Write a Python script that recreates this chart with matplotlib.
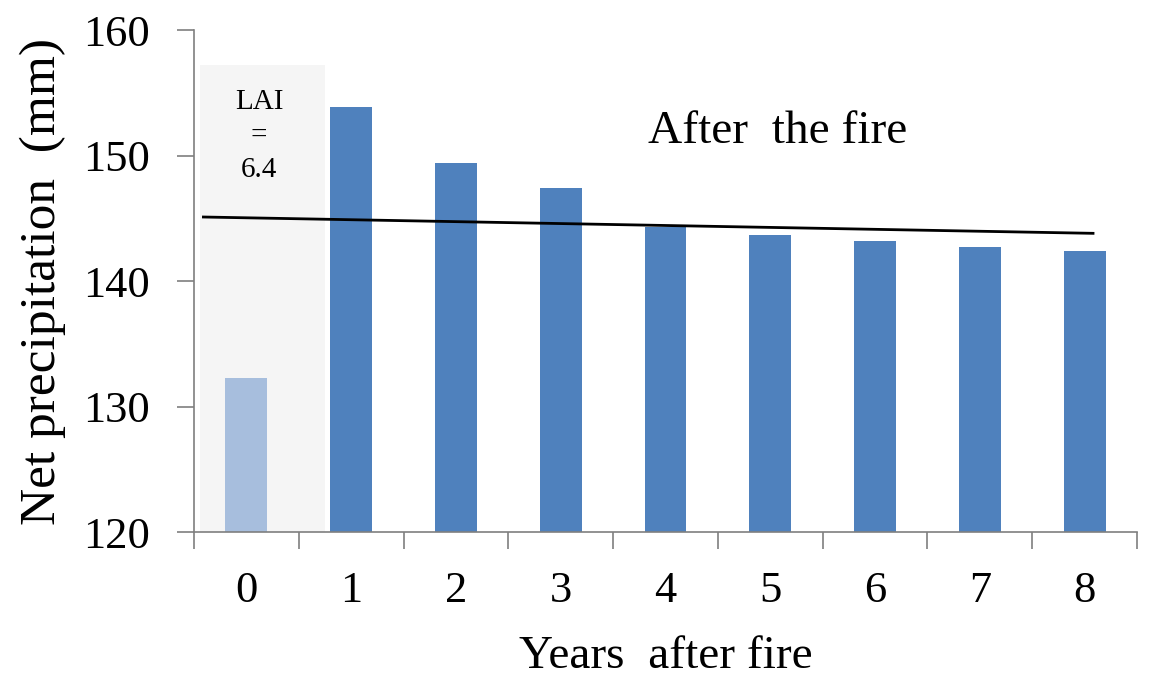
import matplotlib
matplotlib.use("Agg")
import matplotlib.pyplot as plt
import numpy as np

years = [0, 1, 2, 3, 4, 5, 6, 7, 8]
net_precip = [132.3, 153.9, 149.4, 147.4, 144.3, 143.7, 143.2, 142.7, 142.4]
trend_x = [-0.41, 8.08]
trend_y = [145.1, 143.8]
yticks = [120, 130, 140, 150, 160]

plt.rcParams['font.family'] = ['Liberation Serif', 'DejaVu Serif']

fig = plt.figure(figsize=(11.56, 6.87), dpi=100)
ax = fig.add_axes([0.1678, 0.2256, 0.8158, 0.7307])

ax.set_xlim(-0.5, 8.5)
ax.set_ylim(120, 160)

# shaded pre-fire region
ax.axvspan(-0.44, 0.755, ymin=0, ymax=(157.2 - 120) / 40, color='#f5f5f5', zorder=0, lw=0)

colors = ['#a7bedd'] + ['#4f81bd'] * (len(years) - 1)
ax.bar(years, [v - 120 for v in net_precip], bottom=120, width=0.4, color=colors, zorder=2)

ax.plot(trend_x, trend_y, color='black', lw=2, zorder=3)

ax.text(0.12, 153.7, 'LAI', ha='center', va='baseline', fontsize=21)
ax.text(0.12, 151.6, '=', ha='center', va='center', fontsize=21)
ax.text(0.12, 148.3, '6.4', ha='center', va='baseline', fontsize=21)
ax.text(5.07, 151.0, 'After  the fire', ha='center', va='baseline', fontsize=34)

for s in ['top', 'right']:
    ax.spines[s].set_visible(False)
for s in ['left', 'bottom']:
    ax.spines[s].set_color('#7f7f7f')
    ax.spines[s].set_linewidth(1.2)

ax.set_yticks(yticks)
ax.set_yticklabels([str(t) for t in yticks], fontsize=32)
ax.tick_params(axis='y', direction='out', length=12, width=1.2, color='#7f7f7f', pad=20)

ax.set_xticks(years)
ax.set_xticklabels([str(y) for y in years], fontsize=32)
ax.tick_params(axis='x', which='major', length=0, pad=28)
ax.set_xticks(np.arange(-0.5, 9.0, 1.0), minor=True)
ax.tick_params(axis='x', which='minor', direction='out', length=12, width=1.2, color='#7f7f7f')

ax.set_ylabel('Net precipitation  (mm)', fontsize=37, labelpad=12)
ax.set_xlabel('Years  after fire', fontsize=34, labelpad=18)

fig.savefig('out.png', dpi=100)
